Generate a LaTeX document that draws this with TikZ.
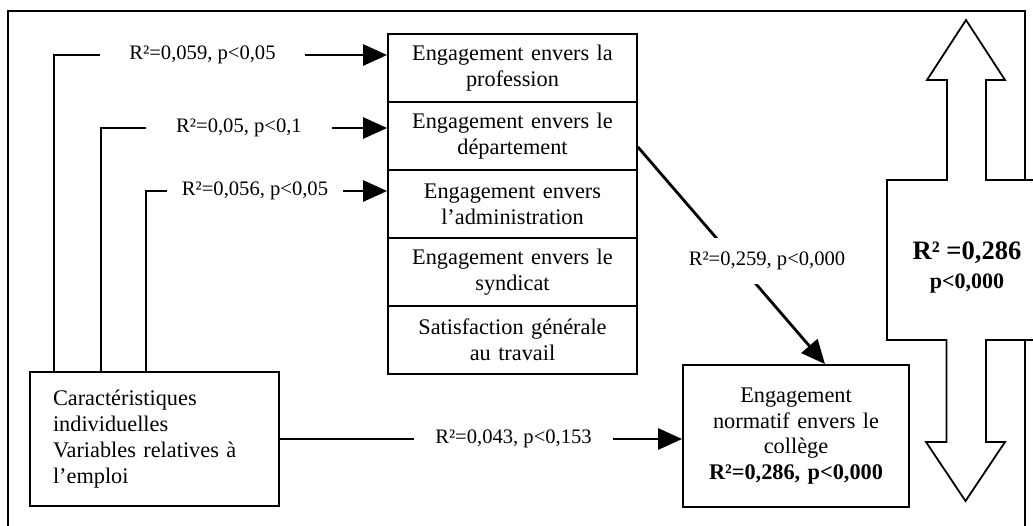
\documentclass[tikz,border=0pt]{standalone}
\usepackage{fontspec}
\setmainfont{Liberation Serif}
\usetikzlibrary{arrows.meta}
\begin{document}
\begin{tikzpicture}[x=1pt,y=-1pt,
  box/.style={draw, line width=1.8pt, inner sep=0pt, align=center,
    font=\fontsize{22.3}{25.8}\selectfont},
  stackrow/.style={box, minimum width=249pt, minimum height=68pt, text width=240pt},
  conn/.style={line width=2.8pt},
  arr/.style={conn, -{Triangle[length=24pt,width=21pt]}},
  lab/.style={fill=white, font=\fontsize{20.6}{24}\selectfont, inner ysep=3pt},
  bigarrow/.style={line width=1.8pt, fill=white, line join=miter},
]
\useasboundingbox (0,0) rectangle (1033,525);
\fill[white] (0,0) rectangle (1033,525);

% outer frame, open at the bottom
\draw[line width=1.8pt] (8,540) -- (8,11) -- (1025,11) -- (1025,540);

% stack of commitment variables
\node[stackrow] (r1) at (512.5,68)  {Engagement envers la\\profession};
\node[stackrow] (r2) at (512.5,136) {Engagement envers le\\département};
\node[stackrow] (r3) at (512.5,204) {Engagement envers\\l’administration};
\node[stackrow] (r4) at (512.5,272) {Engagement envers le\\syndicat};
\node[stackrow] (r5) at (512.5,340) {Satisfaction générale\\au travail};

% predictors
\node[box, align=left, text width=203pt, inner xsep=23pt, minimum height=134pt]
  (cara) at (154.5,439)
  {Caractéristiques\\individuelles\\Variables relatives à\\l’emploi};

% dependent variable
\node[box, minimum width=226pt, minimum height=142pt, text width=220pt]
  (tgt) at (796,436)
  {Engagement\\normatif envers le\\collège\\\textbf{R²=0,286, p<0,000}};

% elbow connectors from the predictors
\coordinate (k1) at (54,55);
\coordinate (k2) at (101,128);
\coordinate (k3) at (146,191);
\draw[arr] (cara.north -| k1) -- (k1) -- (r1.west |- k1);
\draw[arr] (cara.north -| k2) -- (k2) -- (r2.west |- k2);
\draw[arr] (cara.north -| k3) -- (k3) -- (r3.west |- k3);
\draw[arr] (cara.east) -- (tgt.west |- cara.east);
\draw[arr] ([yshift=-11pt]r2.east) -- ([xshift=29pt]tgt.north);

% path labels (white background breaks the line)
\node[lab, inner xsep=29.5pt] (l1) at (202.5,55)  {R²=0,059, p<0,05};
\node[lab, inner xsep=30pt]   (l2) at (239,128)   {R²=0,05, p<0,1};
\node[lab, inner xsep=15pt]   (l3) at (255,191)   {R²=0,056, p<0,05};
\node[lab, inner xsep=21pt]   (l4) at (513.5,439) {R²=0,043, p<0,153};
\node[lab, inner xsep=2pt, inner ysep=14pt] (l5) at (767,261) {R²=0,259, p<0,000};

% double-headed block arrow with the overall fit
\draw[bigarrow] (966,20) -- (1005,80) -- (986,80) -- (986,180) -- (1045,180)
  -- (1045,340) -- (986,340) -- (986,442) -- (1005,442) -- (965.5,501)
  -- (926,442) -- (946.5,442) -- (946.5,340) -- (887,340) -- (887,180)
  -- (947,180) -- (947,80) -- (927,80) -- cycle;
\node[font=\bfseries\fontsize{26.6}{30}\selectfont] (big) at (967,253) {R² =0,286};
\node[font=\bfseries\fontsize{22}{26}\selectfont] (bigp) at (967,284) {p<0,000};
\end{tikzpicture}
\end{document}
